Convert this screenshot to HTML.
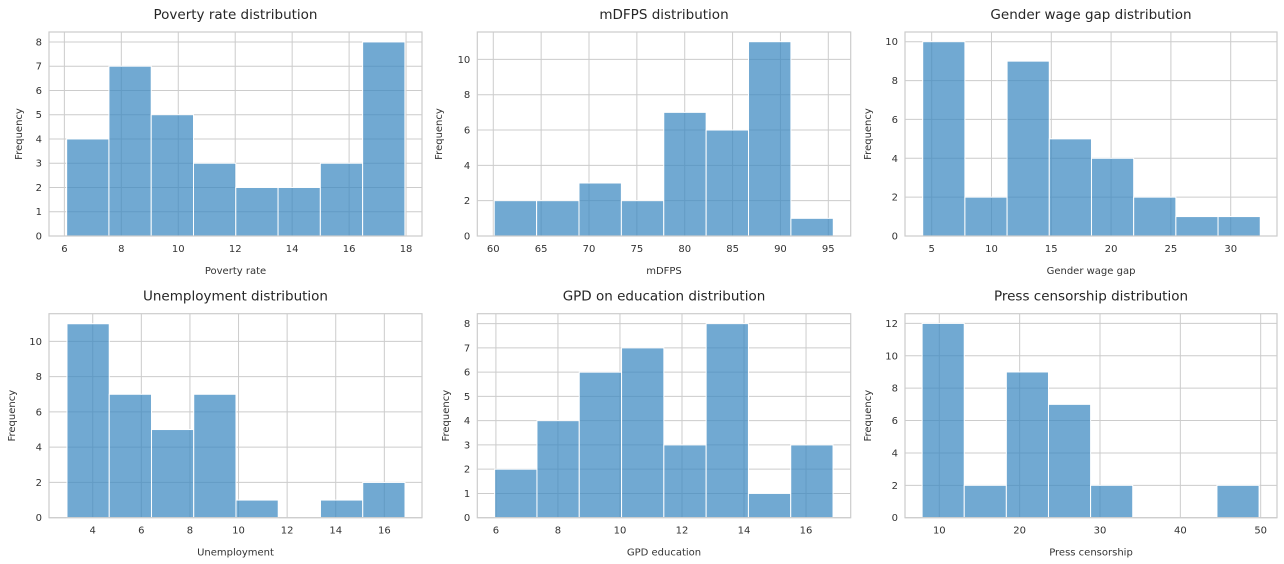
<!DOCTYPE html>
<html><head><meta charset="utf-8">
<style>
body{margin:0;background:#fff;}
svg{display:block;font-family:"DejaVu Sans","Liberation Sans",sans-serif;}
</style></head>
<body>
<svg id="fig" width="1284" height="564" viewBox="0 0 1284 564" xmlns="http://www.w3.org/2000/svg"></svg>
<script>
// ---- data ----
const titles = ["Poverty rate distribution","mDFPS distribution","Gender wage gap distribution","Unemployment distribution","GPD on education distribution","Press censorship distribution"];
const xLabels = ["Poverty rate","mDFPS","Gender wage gap","Unemployment","GPD education","Press censorship"];
const povertyCounts = [4,7,5,3,2,2,3,8];
const mdfpsCounts = [2,2,3,2,7,6,11,1];
const genderCounts = [10,2,9,5,4,2,1,1];
const unempCounts = [11,7,5,7,1,0,1,2];
const educCounts = [2,4,6,7,3,8,1,3];
const pressCounts = [12,2,9,7,2,0,0,2];
const binStarts = [6.08,60.1,4.25,2.94,5.96,7.86];
const binEnds = [17.96,95.52,32.47,16.85,16.87,49.8];
const xDomains = [[5.46,18.56],[58.33,97.34],[2.77,33.87],[2.2,17.55],[5.4,17.44],[5.73,52.03]];
const yMaxes = [8.41,11.55,10.5,11.57,8.41,12.6];
const xTicks = [[6,8,10,12,14,16,18],[60,65,70,75,80,85,90,95],[5,10,15,20,25,30],[4,6,8,10,12,14,16],[6,8,10,12,14,16],[10,20,30,40,50]];
const yTicks = [[0,1,2,3,4,5,6,7,8],[0,2,4,6,8,10],[0,2,4,6,8,10],[0,2,4,6,8,10],[0,1,2,3,4,5,6,7,8],[0,2,4,6,8,10,12]];
const allCounts = [povertyCounts,mdfpsCounts,genderCounts,unempCounts,educCounts,pressCounts];
const panelNames = ["poverty-rate","mdfps","gender-wage-gap","unemployment","gpd-education","press-censorship"];

// ---- layout ----
const boxes = [
 {x0:49,x1:422,y0:32,y1:236,yl:19},
 {x0:477.3,x1:850.7,y0:32,y1:236,yl:439},
 {x0:905,x1:1277,y0:32,y1:236,yl:868},
 {x0:49,x1:422,y0:313.7,y1:517.7,yl:12},
 {x0:477.3,x1:850.7,y0:313.7,y1:517.7,yl:446},
 {x0:905,x1:1277,y0:313.7,y1:517.7,yl:868}
];
const NS="http://www.w3.org/2000/svg";
const fig=document.getElementById('fig');
function mk(tag,attrs,parent){const e=document.createElementNS(NS,tag);for(const k in attrs)e.setAttribute(k,attrs[k]);parent.appendChild(e);return e;}

boxes.forEach((b,i)=>{
  const g=mk('g',{},fig);
  
  
  const [xmin,xmax]=xDomains[i];
  const sx=v=>b.x0+(v-xmin)/(xmax-xmin)*(b.x1-b.x0);
  const sy=v=>b.y1-v/yMaxes[i]*(b.y1-b.y0);
  xTicks[i].forEach(t=>{
    const l=mk('line',{x1:sx(t),x2:sx(t),y1:b.y0,y2:b.y1,stroke:'#cccccc','stroke-width':1},g);
    
    
    const tx=mk('text',{x:sx(t),y:b.y1+16,'font-size':10,fill:'#333','text-anchor':'middle'},g);
    tx.textContent=t;
    
    
  });
  yTicks[i].forEach(t=>{
    const l=mk('line',{x1:b.x0,x2:b.x1,y1:sy(t),y2:sy(t),stroke:'#cccccc','stroke-width':1},g);
    
    
    const tx=mk('text',{x:b.x0-7,y:sy(t)+3.5,'font-size':10,fill:'#333','text-anchor':'end'},g);
    tx.textContent=t;
    
    
  });
  const counts=allCounts[i];
  const w=(binEnds[i]-binStarts[i])/counts.length;
  counts.forEach((c,k)=>{
    if(c<=0)return;
    const a=binStarts[i]+k*w;
    const r=mk('rect',{x:sx(a),y:sy(c),width:sx(a+w)-sx(a),height:sy(0)-sy(c),fill:'#3a88c0','fill-opacity':0.72,stroke:'#ffffff','stroke-width':1},g);
    
    
  });
  const fr=mk('rect',{x:b.x0,y:b.y0,width:b.x1-b.x0,height:b.y1-b.y0,fill:'none',stroke:'#cccccc','stroke-width':1.2},g);
  
  
  const ti=mk('text',{x:(b.x0+b.x1)/2,y:b.y0-13,'font-size':13.5,fill:'#262626','text-anchor':'middle'},g);
  ti.textContent=titles[i];
  
  
  const xl=mk('text',{x:(b.x0+b.x1)/2,y:b.y1+38,'font-size':10,fill:'#333','text-anchor':'middle'},g);
  xl.textContent=xLabels[i];
  
  
  const cy=(b.y0+b.y1)/2;
  const yl=mk('text',{x:b.yl,y:cy,'font-size':10,fill:'#333','text-anchor':'middle',transform:`rotate(-90 ${b.yl} ${cy})`,'dominant-baseline':'middle'},g);
  yl.textContent='Frequency';
  
  
});
</script>
</body></html>
